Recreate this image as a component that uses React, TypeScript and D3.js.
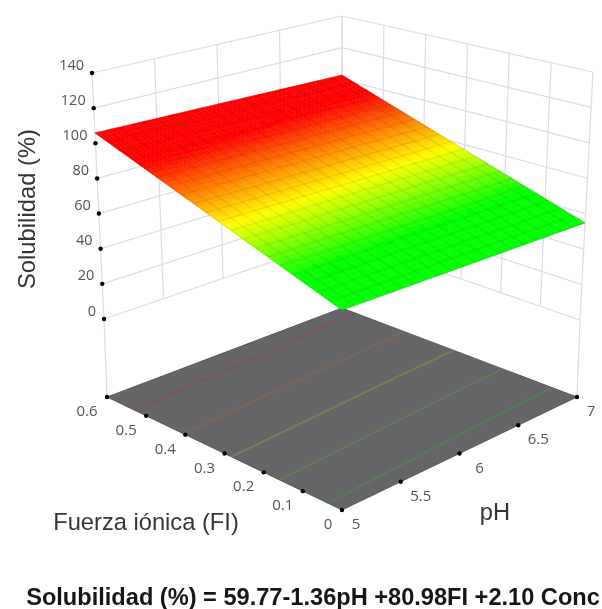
import React from 'react';
import * as d3 from 'd3';

const W = 602;
const H = 609;

const phTicks = [5, 5.5, 6, 6.5, 7];
const fiTicks = [0, 0.1, 0.2, 0.3, 0.4, 0.5, 0.6];
const zTicks = [0, 20, 40, 60, 80, 100, 120, 140];
const contourLevels = [60, 70, 80, 90, 100];

// solubilidad, one row per FI tick, one column per pH tick
const fi00 = [57.1, 56.5, 56.0, 55.4, 54.8];
const fi01 = [65.2, 64.6, 64.0, 63.4, 62.8];
const fi02 = [73.3, 72.7, 72.0, 71.4, 70.8];
const fi03 = [81.4, 80.8, 80.1, 79.4, 78.8];
const fi04 = [89.6, 88.9, 88.2, 87.5, 86.8];
const fi05 = [97.7, 97.0, 96.3, 95.5, 94.8];
const fi06 = [105.9, 105.1, 104.4, 103.5, 102.7];
const surface = [fi00, fi01, fi02, fi03, fi04, fi05, fi06];

const MESH = 20;
const FILL_STEPS = 60;

type Pt = [number, number];

// frame corners of the picture: F front, L left, B back, R right
const floorF: Pt = [342, 510];
const floorL: Pt = [107, 397];
const floorB: Pt = [342, 308];
const floorR: Pt = [577, 397];

const edge = (a: Pt, b: Pt) =>
  d3.scaleLinear<number[]>().domain([0, 140]).range([a, b]);
const edgeF = edge([342, 422.6], [342, 146.7]);
const edgeL = edge([104, 319], [92, 73]);
const edgeB = edge([342, 237.7], [342, 16]);
const edgeR = edge([580, 320], [593, 72]);

const uScale = d3.scaleLinear().domain([5, 7]).range([0, 1]);
const vScale = d3.scaleLinear().domain([0, 0.6]).range([0, 1]);

const bilinear = (f: number[], l: number[], b: number[], r: number[], u: number, v: number): Pt => {
  const at = (i: number) =>
    (1 - u) * (1 - v) * f[i] + (1 - u) * v * l[i] + u * v * b[i] + u * (1 - v) * r[i];
  return [at(0), at(1)];
};

const project = (ph: number, fi: number, z: number) =>
  bilinear(edgeF(z), edgeL(z), edgeB(z), edgeR(z), uScale(ph), vScale(fi));
const floor = (ph: number, fi: number) =>
  bilinear(floorF, floorL, floorB, floorR, uScale(ph), vScale(fi));

const rowAt = d3.scaleLinear<number[]>().domain(fiTicks).range(surface);
const zAt = (ph: number, fi: number) =>
  d3.scaleLinear().domain(phTicks).range(rowAt(fi))(ph);

// the surface is a flat sheet, so its four projected corners place everything on it
const sheetF = project(5, 0, zAt(5, 0));
const sheetL = project(5, 0.6, zAt(5, 0.6));
const sheetB = project(7, 0.6, zAt(7, 0.6));
const sheetR = project(7, 0, zAt(7, 0));
const sheet = (ph: number, fi: number) =>
  bilinear(sheetF, sheetL, sheetB, sheetR, uScale(ph), vScale(fi));

const color = d3
  .scaleLinear<string>()
  .domain([66, 80, 97])
  .range(['#00ff00', '#ffff00', '#ff0000'])
  .clamp(true);

const line = d3.line<Pt>();
const closed = d3.line<Pt>().curve(d3.curveLinearClosed);

const phFill = d3.scaleLinear().domain([0, FILL_STEPS]).range([5, 7]);
const fiFill = d3.scaleLinear().domain([0, FILL_STEPS]).range([0, 0.6]);
const phMesh = d3.scaleLinear().domain([0, MESH]).range([5, 7]);
const fiMesh = d3.scaleLinear().domain([0, MESH]).range([0, 0.6]);

const cells = d3.range(FILL_STEPS).flatMap((i) =>
  d3.range(FILL_STEPS).map((j) => {
    const p0 = phFill(i), p1 = phFill(i + 1);
    const f0 = fiFill(j), f1 = fiFill(j + 1);
    return {
      key: `${i}-${j}`,
      d: closed([sheet(p0, f0), sheet(p1, f0), sheet(p1, f1), sheet(p0, f1)]) as string,
      fill: color(zAt((p0 + p1) / 2, (f0 + f1) / 2)),
    };
  })
);

const contourAt = (level: number) =>
  phTicks.map((ph, c) => {
    const column = surface.map((row) => row[c]);
    const fi = d3.scaleLinear().domain(column).range(fiTicks).clamp(true)(level);
    return floor(ph, fi);
  });

const font = "'Liberation Sans', Arial, sans-serif";
const tickFont = "'Open Sans', sans-serif";
const gridColor = '#dcdce4';
const tickColor = '#555';
const titleColor = '#363636';

export default function App() {
  const wall = (pts: Pt[], key: string) => (
    <path key={key} d={line(pts) as string} fill="none" stroke={gridColor} strokeWidth={1.2} />
  );
  return (
    <svg width={W} height={H} style={{ position: 'absolute', left: 0, top: 0, background: '#fff' }}>
      <defs>
        <filter id="soft" x="0" y="0" width="100%" height="100%">
          <feGaussianBlur stdDeviation="0.6" />
        </filter>
      </defs>
      <g filter="url(#soft)">
        <rect width={W} height={H} fill="#fff" />
        {/* left and right walls */}
        {zTicks.map((z) => wall([project(5, 0.6, z), project(7, 0.6, z)], `lh${z}`))}
        {zTicks.map((z) => wall([project(7, 0.6, z), project(7, 0, z)], `rh${z}`))}
        {phTicks.map((ph) => wall([project(ph, 0.6, 0), project(ph, 0.6, 140)], `lv${ph}`))}
        {fiTicks.map((fi) => wall([project(7, fi, 0), project(7, fi, 140)], `rv${fi}`))}
        {wall([project(5, 0.6, 0), floor(5, 0.6)], 'lc')}
        {wall([project(7, 0, 0), floor(7, 0)], 'rc')}

        {/* floor and its contours */}
        <path
          d={closed([floor(5, 0), floor(5, 0.6), floor(7, 0.6), floor(7, 0)]) as string}
          fill="#666668"
          stroke="#4c4c50"
          strokeWidth={0.8}
        />
        {contourLevels.map((level) => (
          <path
            key={level}
            d={line(contourAt(level)) as string}
            fill="none"
            stroke={color(level)}
            strokeOpacity={0.15}
            strokeWidth={2}
          />
        ))}

        {/* surface */}
        {cells.map((c) => (
          <path key={c.key} d={c.d} fill={c.fill} stroke={c.fill} strokeWidth={0.5} />
        ))}
        {d3.range(MESH + 1).map((i) => (
          <path key={`mp${i}`} d={line([sheet(phMesh(i), 0), sheet(phMesh(i), 0.6)]) as string}
            fill="none" stroke="#000" strokeOpacity={0.07} strokeWidth={1.4} />
        ))}
        {d3.range(MESH + 1).map((j) => (
          <path key={`mf${j}`} d={line([sheet(5, fiMesh(j)), sheet(7, fiMesh(j))]) as string}
            fill="none" stroke="#000" strokeOpacity={0.07} strokeWidth={1.4} />
        ))}

        {/* ticks */}
        {zTicks.map((z) => {
          const [x, y] = project(5, 0.6, z);
          return (
            <g key={z}>
              <circle cx={x} cy={y} r={2.2} fill="#000" />
              <text x={x - 8} y={y - 9} textAnchor="end" dominantBaseline="central"
                fontFamily={tickFont} fontSize={14.5} fill={tickColor}>{z}</text>
            </g>
          );
        })}
        {fiTicks.map((fi) => {
          const [x, y] = floor(5, fi);
          return (
            <g key={fi}>
              {fi > 0 && <circle cx={x} cy={y} r={2.2} fill="#000" />}
              <text x={fi === 0 ? x - 14 : x - 20} y={y + 13} textAnchor="middle" dominantBaseline="central"
                fontFamily={tickFont} fontSize={15} fill={tickColor}>{fi}</text>
            </g>
          );
        })}
        {phTicks.map((ph) => {
          const [x, y] = floor(ph, 0);
          return (
            <g key={ph}>
              <circle cx={x} cy={y} r={2.2} fill="#000" />
              <text x={x + (ph === 5 || ph === 7 ? 14 : 20)} y={y + 13} textAnchor="middle" dominantBaseline="central"
                fontFamily={tickFont} fontSize={15} fill={tickColor}>{ph}</text>
            </g>
          );
        })}

        {/* titles */}
        <text transform="translate(26,209) rotate(-90)" textAnchor="middle" dominantBaseline="central"
          fontFamily={font} fontSize={23.8} fill={titleColor}>Solubilidad (%)</text>
        <text x={146} y={522} textAnchor="middle" dominantBaseline="central"
          fontFamily={font} fontSize={23.7} fill={titleColor}>Fuerza iónica (FI)</text>
        <text x={495} y={512} textAnchor="middle" dominantBaseline="central"
          fontFamily={font} fontSize={23.7} fill={titleColor}>pH</text>
        <text x={313} y={597} textAnchor="middle" dominantBaseline="central"
          fontFamily={font} fontSize={23.6} fontWeight="bold" fill="#181818">
          Solubilidad (%) = 59.77-1.36pH +80.98FI +2.10 Conc
        </text>
      </g>
    </svg>
  );
}
